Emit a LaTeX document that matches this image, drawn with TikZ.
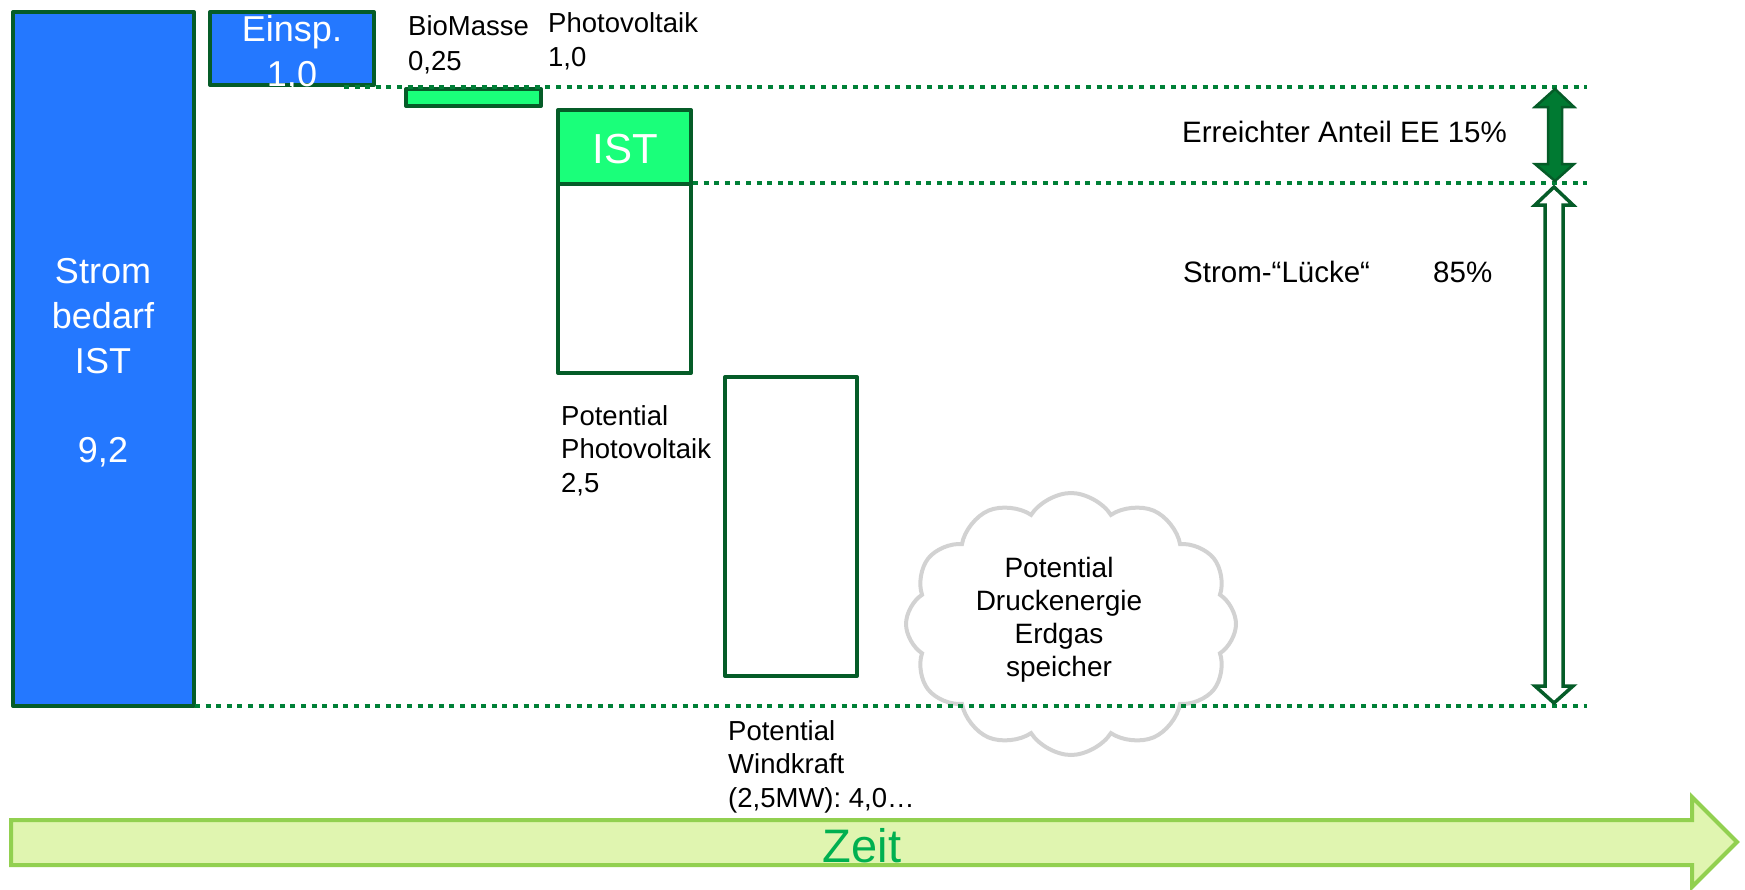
\documentclass[tikz,border=0pt]{standalone}
\usepackage{fontspec}
\setmainfont{Liberation Sans}
\usetikzlibrary{shapes.symbols}
\definecolor{boxblue}{RGB}{36,120,255}
\definecolor{boxgreen}{RGB}{26,255,122}
\definecolor{edgegreen}{RGB}{5,92,40}
\definecolor{dotgreen}{RGB}{0,128,55}
\definecolor{arrowgreen}{RGB}{0,122,50}
\definecolor{zeitfill}{RGB}{224,245,176}
\definecolor{zeitedge}{RGB}{146,208,80}
\definecolor{zeittext}{RGB}{0,176,80}
\definecolor{cloudgray}{RGB}{210,210,210}
\begin{document}
\begin{tikzpicture}[x=1pt,y=-1pt,
  bar/.style={draw=edgegreen,line width=4pt,line join=round,anchor=north west,inner sep=0pt,outer sep=0pt},
  guide/.style={draw=dotgreen,line width=4.5pt,dash pattern=on 5pt off 5.6pt},
  bigtxt/.style={font=\fontsize{36}{45}\selectfont,text=white,align=center,inner sep=0pt,anchor=base},
  smalltxt/.style={font=\fontsize{27.5}{33.5}\selectfont,align=left,inner sep=0pt,anchor=base west},
  sidetxt/.style={font=\fontsize{29.5}{35}\selectfont,inner sep=0pt,anchor=base west},
  blockarrow/.style={draw=edgegreen,line join=miter},
]
\useasboundingbox (0,0) rectangle (1745,889);

% time arrow
\draw[draw=zeitedge,fill=zeitfill,line width=4pt,line join=miter]
  (11,820) -- (1692,820) -- (1692,797) -- (1737,842) -- (1692,887) -- (1692,865) -- (11,865) -- cycle;
\node[font=\fontsize{47}{56}\selectfont,text=zeittext,anchor=base,inner sep=0pt] (zeit) at (862,862) {Zeit};

% bars
\node[bar,fill=boxblue,minimum width=181pt,minimum height=694pt] (strom) at (13,12) {};
\node[bar,fill=boxblue,minimum width=164pt,minimum height=73pt] (einsp) at (210,12) {};
\node[bar,fill=boxgreen,minimum width=135pt,minimum height=17pt] (bio) at (406,89) {};
\node[bar,fill=boxgreen,minimum width=133pt,minimum height=74pt] (ist) at (558,110) {};
\node[bar,fill=white,minimum width=133pt,minimum height=189pt] (pv) at (558,184) {};
\node[bar,fill=white,minimum width=132pt,minimum height=299pt] (wind) at (725,377) {};

% cloud
\node[cloud,cloud puffs=12,cloud puff arc=115,cloud ignores aspect,draw=cloudgray,line width=4pt,
      minimum width=330pt,minimum height=262pt,inner sep=0pt] (cloud) at (1071,624) {};

% guide lines
\coordinate (g1a) at (344,87);  \coordinate (g1b) at (1587,87);
\coordinate (g2a) at (693,183); \coordinate (g2b) at (1587,183);
\coordinate (g3a) at (195,706); \coordinate (g3b) at (1587,706);
\draw[guide] (g1a) -- (g1b);
\draw[guide] (g2a) -- (g2b);
\draw[guide] (g3a) -- (g3b);

% texts in bars (anchor = baseline of last line)
\node[bigtxt] (stromtxt) at (103,462) {Strom\\bedarf\\IST\\[44pt]9,2};
\node[bigtxt] (einsptxt) at (292,86) {Einsp.\\1,0};
\node[bigtxt,font=\fontsize{42}{50}\selectfont] (isttxt) at (625,163) {IST};

% labels
\node[smalltxt] (biotxt) at (408,70) {BioMasse\\[1.5pt]0,25};
\node[smalltxt] (pvtxt) at (548,66) {Photovoltaik\\[0.5pt]1,0};
\node[smalltxt] (pvpot) at (561,492) {Potential\\Photovoltaik\\2,5};
\node[smalltxt] (windpot) at (728,807) {Potential\\Windkraft\\(2,5MW): 4,0…};
\node[font=\fontsize{28}{33}\selectfont,align=center,inner sep=0pt,anchor=base] (cloudtxt) at (1059,676)
  {Potential\\Druckenergie\\Erdgas\\speicher};
\node[sidetxt] (anteil) at (1182,142) {Erreichter Anteil EE 15\%};
\node[sidetxt] (luecke) at (1183,282) {Strom-“Lücke“};
\node[sidetxt] (pct) at (1433,282) {85\%};

% double arrows
\draw[blockarrow,fill=arrowgreen,line width=2.5pt]
  (1555,89) -- (1574,107) -- (1562,107) -- (1562,164) -- (1574,164) -- (1555,181)
  -- (1535,164) -- (1548,164) -- (1548,107) -- (1535,107) -- cycle;
\draw[blockarrow,fill=white,line width=3.5pt]
  (1554,187) -- (1573,205) -- (1563,205) -- (1563,686) -- (1573,686) -- (1554,703)
  -- (1535,686) -- (1545,686) -- (1545,205) -- (1535,205) -- cycle;
\end{tikzpicture}
\end{document}
